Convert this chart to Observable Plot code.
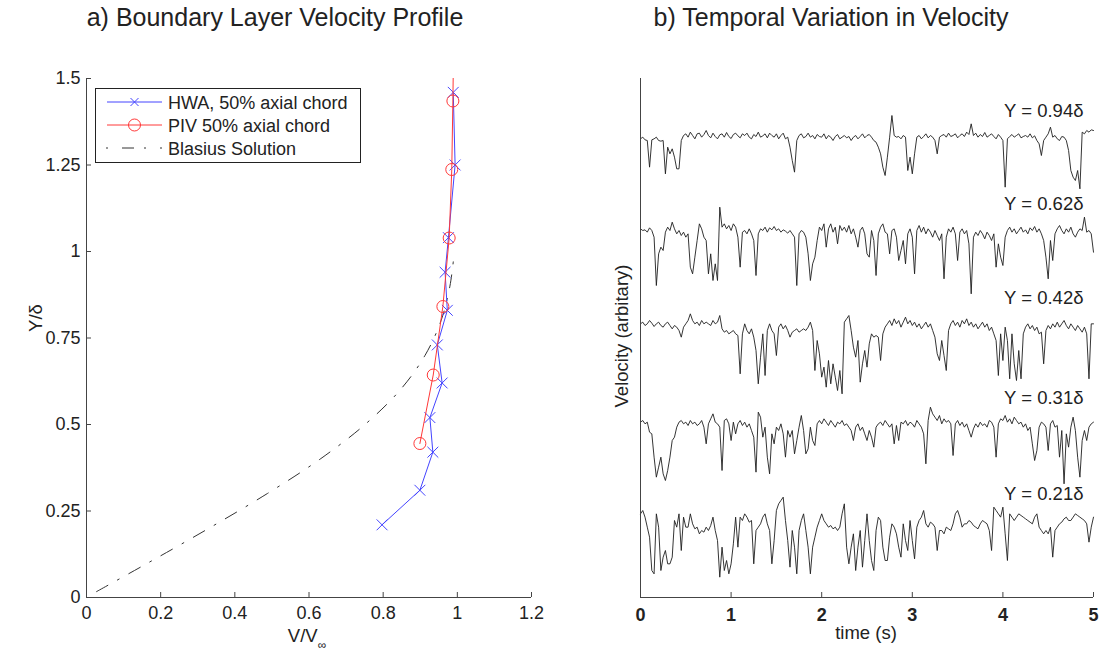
<!DOCTYPE html>
<html><head><meta charset="utf-8">
<script src="https://cdn.jsdelivr.net/npm/d3@7"></script>
<script src="https://cdn.jsdelivr.net/npm/@observablehq/plot@0.6"></script>
<style>
html,body{margin:0;padding:0;background:#fff;}
#wrap{position:relative;width:1109px;height:655px;overflow:hidden;font-family:"Liberation Sans",Arial,Helvetica,sans-serif;color:#222;}
.abs{position:absolute;white-space:nowrap;line-height:1;}
.title{font-size:25px;transform:translateX(-50%);top:5px;}
.lab{font-size:18.5px;}
</style></head><body><div id="wrap"></div>
<script>
// ---------- panel a data ----------
const hwaV = [0.797, 0.899, 0.934, 0.926, 0.959, 0.946, 0.973, 0.967, 0.976, 0.994, 0.989];
const hwaY = [0.21, 0.31, 0.42, 0.52, 0.62, 0.73, 0.83, 0.94, 1.04, 1.25, 1.46];
const pivV = [0.899, 0.935, 0.961, 0.978, 0.985, 0.988, 0.99];
const pivY = [0.445, 0.643, 0.841, 1.039, 1.237, 1.435, 1.6];
const blasiusV = [0.027, 0.166, 0.330, 0.487, 0.630, 0.751, 0.846, 0.913, 0.956, 0.980, 0.992];
const blasiusY = [0.017, 0.1, 0.2, 0.3, 0.4, 0.5, 0.6, 0.7, 0.8, 0.9, 1.0];
const xTicksA = [0, 0.2, 0.4, 0.6, 0.8, 1, 1.2];
const yTicksA = [0, 0.25, 0.5, 0.75, 1, 1.25, 1.5];
const legendLabels = ["HWA, 50% axial chord", "PIV 50% axial chord", "Blasius Solution"];

// ---------- panel b data (velocity, arbitrary units, sampled every dt seconds) ----------
const dt = 0.025;
const xTicksB = [0, 1, 2, 3, 4, 5];
const traceLabels = ["Y = 0.94δ", "Y = 0.62δ", "Y = 0.42δ", "Y = 0.31δ", "Y = 0.21δ"];
const traceOffsets = [1381, 1101, 821, 521, 231];
const t094 = [
-5,0,-8,-10,-90,-8,-5,0,-10,-12,
-10,-110,-30,-50,-35,-60,-95,-95,-10,5,
10,0,15,5,-5,10,12,0,8,20,
5,-2,12,2,-5,7,10,0,14,2,
-4,8,12,4,-2,10,5,12,0,-5,
8,2,15,0,4,10,-2,12,5,0,
10,-5,5,12,-5,0,-30,-70,-105,-10,
5,10,-2,2,12,0,5,-5,8,2,
0,10,-5,5,0,-10,2,8,-5,0,
5,-2,2,-10,0,5,-5,2,10,-2,
5,8,0,-10,-15,-30,-50,-90,-115,-60,
0,65,5,0,2,-5,5,0,-100,-60,
-110,-50,0,5,-5,2,10,-2,5,0,
-10,-50,0,5,8,0,12,2,5,10,
-2,5,10,2,15,8,40,5,12,0,
8,2,14,0,5,10,2,-5,8,0,
-10,-150,-5,2,8,0,5,10,-2,2,
5,0,10,-2,4,-10,-20,-55,-10,0,
10,30,0,5,-5,-10,2,0,-10,-40,
-100,-120,-130,-100,-155,15,10,20,15,22,
20];
const t062 = [
5,0,2,-5,8,0,-20,-165,-70,-50,
-60,-5,10,0,25,5,-10,0,-15,-5,
-20,-10,-110,-130,-80,-30,20,5,-20,-30,
-130,-70,-150,-100,-150,70,10,20,5,15,
0,20,10,-20,-110,-5,0,-10,5,-10,
-30,-135,-10,5,0,10,-5,8,2,12,
0,5,-5,2,-2,-8,0,-10,-20,-165,
-10,0,-5,-20,-70,-150,-100,-80,-30,10,
0,20,-50,5,20,-5,10,-40,15,0,
10,-5,15,-10,5,-20,-50,0,10,-10,
-70,-80,0,-30,-135,-10,10,20,-5,-10,
-70,0,5,-20,-90,-60,-30,-100,-10,5,
-20,-130,0,15,-5,10,-10,5,-5,-20,
0,-15,-30,-10,-145,-20,5,-5,10,-10,
-90,-5,5,-10,0,-40,-190,-20,-5,-15,
0,-10,-25,-5,-15,-30,-10,-110,-40,-80,
-105,-20,0,10,-5,5,-10,0,10,-5,
2,-10,8,0,12,-5,5,-10,-30,-80,
-145,-30,-90,-10,5,15,0,-10,5,-5,
10,-10,-20,-5,5,0,40,-5,0,-10,
-65];
const t042 = [
0,5,-5,0,10,2,-8,0,5,-5,
-10,0,5,-5,-15,-5,-10,-20,-40,-10,
0,10,30,10,0,5,-5,10,0,5,
0,-5,10,0,5,25,-15,-25,-20,-30,
-25,-20,-30,-35,-150,-30,0,-20,-30,-15,
-40,-80,-180,-100,-30,-155,-20,0,-20,-30,
-95,-10,0,-15,-5,-20,-40,-25,-20,-15,
-25,-20,-15,-20,-10,5,-20,-140,-50,-90,
-160,-130,-190,-110,-180,-120,-160,-200,-140,-210,
5,15,25,-20,-70,-100,-50,-175,-120,-80,
-130,-60,-30,-40,-35,-40,-110,-30,-10,0,
10,-5,15,0,10,-10,5,20,0,10,
-5,5,-10,0,-15,-5,5,-10,0,-20,
-40,-90,-110,-50,-95,-140,-20,0,10,-5,
5,-10,10,0,15,-5,5,-10,0,-15,
-5,5,-10,0,-20,-10,-30,-50,-155,-30,
-110,-10,-50,-165,-30,-120,-170,-80,-165,-30,
-10,0,-15,-5,-20,-10,-30,-25,-120,-20,
-5,-15,0,-10,5,-10,0,10,-5,-15,
0,-10,-20,-5,-15,-25,-10,-30,-165,0,
0];
const t031 = [
5,10,0,5,-25,-30,-100,-160,-130,-100,
-150,-170,-140,-100,-50,-40,-10,5,10,0,
5,-5,10,0,5,-5,0,10,-10,-60,
0,15,30,5,0,-10,-140,10,15,0,
-50,5,-30,0,10,-5,5,-10,0,-20,
-40,-145,35,20,-40,-10,-100,-150,-30,-60,
-10,-20,0,-30,-100,-20,-40,-20,-90,-50,
-10,25,-20,-90,-75,-10,-50,-65,0,10,
0,15,5,-5,10,0,-10,5,0,10,
-5,0,-10,-20,-50,-10,0,-20,-10,-30,
-50,-20,-40,-70,-10,0,5,-5,10,0,
-10,0,-60,-5,-50,5,0,10,-5,5,
0,-10,10,0,-10,-30,-120,10,50,30,
20,10,25,0,15,5,10,0,-95,0,
10,-5,5,-10,0,-20,-40,-15,0,-10,
5,-5,0,-10,10,5,-10,-100,0,15,
10,25,5,15,0,20,10,0,5,-10,
0,-20,-10,-60,-110,-80,-10,5,0,-10,
-80,0,10,-10,-5,-100,-20,-180,-30,-70,
-10,20,-20,-100,-160,-50,-20,-50,-10,0,
5];
const t021 = [
20,30,10,-20,-50,-150,-160,20,-20,-150,
-110,-90,-130,-130,-110,0,-20,20,-90,10,
-20,-20,20,-10,-25,-20,-40,-30,-35,-20,
-30,-15,10,-30,-60,-170,-80,-150,-120,-160,
-130,-70,10,-80,10,0,20,10,-5,0,
-130,-30,-20,-10,10,20,-10,-30,-130,-60,
30,50,60,70,0,-60,-140,-30,-80,-160,
-30,0,20,-30,-80,-160,-80,-50,-20,0,
20,0,-10,-20,-15,-25,-20,-30,-20,20,
50,-80,-130,-80,-40,-150,-80,-30,-140,-60,
20,-60,-120,-150,-30,10,0,-80,-120,-120,
-50,-10,-20,-40,-80,-110,-10,-60,-90,0,
-60,-115,-20,0,10,30,-10,-20,-5,-10,
-20,-90,-30,-30,-40,-20,-25,-30,-10,20,
30,10,-20,-10,-10,0,-5,-15,-20,-25,
-10,0,-5,-10,-30,-90,40,30,20,10,
40,-40,-120,20,10,0,10,20,15,10,
5,0,-5,-10,10,20,-20,-30,-40,-30,
-40,-20,-110,-30,-20,-10,-5,5,10,0,
0,10,20,15,10,5,0,-10,-65,-20,
10];
const traces = [t094, t062, t042, t031, t021];

// ---------- styles ----------
const FONT = '"Liberation Sans", Arial, Helvetica, sans-serif';
const BLUE = "#4444ff", RED = "#ff3838", AXIS = "#444", INK = "#222";

const hwa = hwaV.map((v, i) => ({v, y: hwaY[i]}));
const piv = pivV.map((v, i) => ({v, y: pivY[i]}));
const blasius = blasiusV.map((v, i) => ({v, y: blasiusY[i]}));

const wrap = document.getElementById("wrap");

const left = Plot.plot({
  width: 560, height: 655,
  marginLeft: 86, marginRight: 29, marginTop: 78, marginBottom: 58,
  style: {fontFamily: FONT, fontSize: "18px", color: INK, background: "transparent", overflow: "visible"},
  x: {domain: [0, 1.2], label: null},
  y: {domain: [0, 1.5], label: null},
  marks: [
    Plot.line(blasius, {x: "v", y: "y", stroke: "#333", strokeWidth: 1, strokeDasharray: "13,11,2,11", curve: "catmull-rom"}),
    Plot.line(hwa, {x: "v", y: "y", stroke: BLUE, strokeWidth: 1, clip: true}),
    Plot.dot(hwa, {x: "v", y: "y", symbol: "times", r: 5, stroke: BLUE, strokeWidth: 1, clip: true}),
    Plot.line(piv, {x: "v", y: "y", stroke: RED, strokeWidth: 1, clip: true}),
    Plot.dot(piv, {x: "v", y: "y", r: 6, stroke: RED, fill: "none", strokeWidth: 1, clip: true}),
    Plot.ruleX([0], {stroke: AXIS, strokeWidth: 1}),
    Plot.ruleY([0], {stroke: AXIS, strokeWidth: 1}),
    Plot.axisX(xTicksA, {tickSize: -5, tickPadding: 14, tickFormat: d => String(d), stroke: AXIS, fill: INK, label: null}),
    Plot.axisY(yTicksA, {tickSize: -5, tickPadding: 11, tickFormat: d => String(d), stroke: AXIS, fill: INK, label: null})
  ]
});
left.style.position = "absolute"; left.style.left = "0px"; left.style.top = "0px";
wrap.appendChild(left);

const traceRows = traces.flatMap((vals, i) => vals.map((v, k) => ({series: i, t: k * dt, v: v + traceOffsets[i]})));
const labelRows = traceLabels.map((text, i) => ({text, y: traceOffsets[i] + 78}));

const right = Plot.plot({
  width: 549, height: 655,
  marginLeft: 80, marginRight: 16, marginTop: 78, marginBottom: 58,
  style: {fontFamily: FONT, fontSize: "18px", color: INK, background: "transparent", overflow: "visible"},
  x: {domain: [0, 5], label: null},
  y: {domain: [0, 1557], axis: null, label: null},
  marks: [
    Plot.line(traceRows, {x: "t", y: "v", z: "series", stroke: "#1e1e1e", strokeWidth: 0.9}),
    Plot.text(labelRows, {y: "y", text: "text", frameAnchor: "right", textAnchor: "end", dx: -10, fontSize: 18.5, fill: INK}),
    Plot.ruleX([0], {stroke: AXIS, strokeWidth: 1}),
    Plot.ruleY([0], {stroke: AXIS, strokeWidth: 1}),
    Plot.axisX(xTicksB, {tickSize: -5, tickPadding: 16, tickFormat: d => String(d), stroke: AXIS, fill: INK, fontWeight: "bold", label: null})
  ]
});
right.style.position = "absolute"; right.style.left = "560px"; right.style.top = "0px";
wrap.appendChild(right);

// ---------- legend (panel a) ----------
const ns = "http://www.w3.org/2000/svg";
const lg = document.createElementNS(ns, "svg");
lg.setAttribute("width", 270); lg.setAttribute("height", 78);
lg.style.position = "absolute"; lg.style.left = "93px"; lg.style.top = "86px";
const ox = 93, oy = 86;
function el(tag, attrs) { const e = document.createElementNS(ns, tag); for (const k in attrs) e.setAttribute(k, attrs[k]); lg.appendChild(e); return e; }
el("rect", {x: 95.5 - ox, y: 88.5 - oy, width: 265, height: 74, fill: "#fff", stroke: "#222", "stroke-width": 1});
const rowsY = [102, 125, 148];
el("line", {x1: 107 - ox, x2: 162 - ox, y1: rowsY[0] - oy, y2: rowsY[0] - oy, stroke: BLUE});
el("path", {d: `M${134.5-4-ox},${rowsY[0]-4-oy}L${134.5+4-ox},${rowsY[0]+4-oy}M${134.5-4-ox},${rowsY[0]+4-oy}L${134.5+4-ox},${rowsY[0]-4-oy}`, stroke: BLUE, fill: "none"});
el("line", {x1: 107 - ox, x2: 162 - ox, y1: rowsY[1] - oy, y2: rowsY[1] - oy, stroke: RED});
el("circle", {cx: 134.5 - ox, cy: rowsY[1] - oy, r: 6, stroke: RED, fill: "none"});
el("line", {x1: 106 - ox, x2: 162 - ox, y1: rowsY[2] - oy, y2: rowsY[2] - oy, stroke: "#333", "stroke-dasharray": "2,14,12,10"});
legendLabels.forEach((t, i) => {
  const tx = el("text", {x: 168 - ox, y: rowsY[i] + 6.5 - oy, fill: INK, "font-size": 18, "font-family": FONT});
  tx.textContent = t;
});
wrap.appendChild(lg);

// ---------- titles and axis labels ----------
function div(cls, html, css) { const d = document.createElement("div"); d.className = "abs " + cls; d.innerHTML = html; Object.assign(d.style, css); wrap.appendChild(d); return d; }
div("title", "a) Boundary Layer Velocity Profile", {left: "275px"});
div("title", "b) Temporal Variation in Velocity", {left: "831px"});
div("lab", 'V/V<span style="font-size:12px;position:relative;top:7px;">∞</span>', {left: "307px", top: "627px", transform: "translateX(-50%)"});
div("lab", "Y/δ", {left: "36px", top: "318px", transform: "translate(-50%,-50%) rotate(-90deg)"});
div("lab", "time (s)", {left: "866px", top: "624px", transform: "translateX(-50%)"});
div("lab", "Velocity (arbitary)", {left: "622px", top: "336px", transform: "translate(-50%,-50%) rotate(-90deg)"});
</script></body></html>
